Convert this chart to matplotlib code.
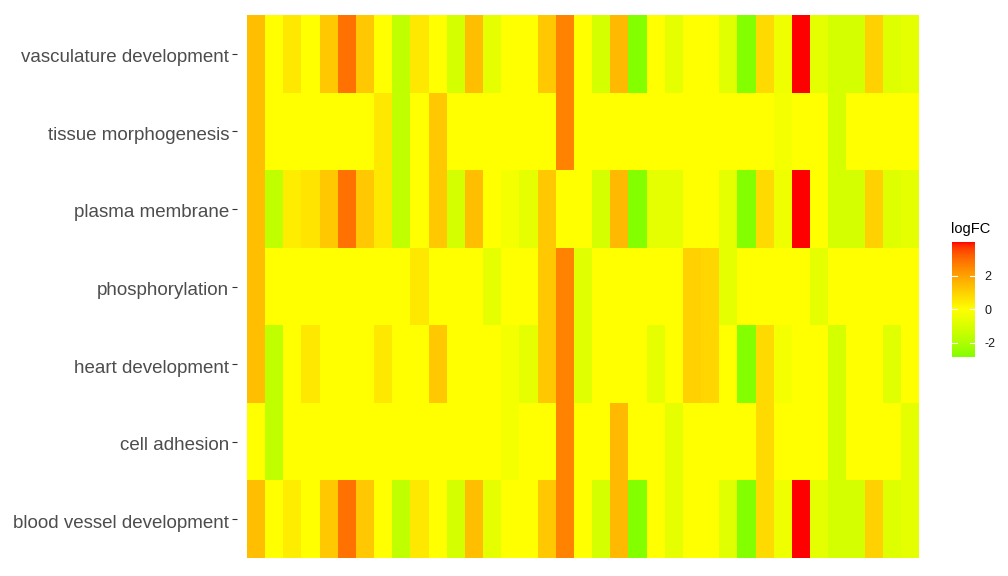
import numpy as np
import matplotlib
matplotlib.use("Agg")
import matplotlib.pyplot as plt
from matplotlib.colors import ListedColormap, Normalize
from matplotlib.transforms import ScaledTranslation

plt.rcParams['font.family'] = ['Liberation Sans', 'DejaVu Sans']
plt.rcParams['axes.unicode_minus'] = False

terms = ["vasculature development", "tissue morphogenesis", "plasma membrane",
         "phosphorylation", "heart development", "cell adhesion",
         "blood vessel development"]

vasculature = [1.4, 0, 0.5, 0, 1.2, 2.9, 1.2, 0, -1.6, 0.5, 0, -1.1, 1.4, -0.7, 0, 0, 1.2, 2.6, 0,
               -1.1, 1.5, -2.84, 0, -0.7, 0, 0, -0.8, -2.84, 0.8, -0.4, 4.0, -0.7, -1.1, -1.1, 1.0, -0.9, -0.7]
tissue = [1.4, 0, 0, 0, 0, 0, 0, 0.5, -1.6, 0, 1.2, 0, 0, 0, 0, 0, 0, 2.6, 0,
          0, 0, 0, 0, 0, 0, 0, 0, 0, 0, -0.3, 0, 0, -1.1, 0, 0, 0, 0]
membrane = [1.4, -1.6, 0.4, 0.6, 1.2, 2.9, 1.2, 0.5, -1.6, 0, 1.2, -1.1, 1.4, 0, -0.3, -0.7, 1.2, 0, 0,
            -1.1, 1.5, -2.84, -0.7, -0.7, 0, 0, -0.7, -2.84, 0.8, -0.4, 4.0, 0, -1.1, -1.1, 1.0, -0.9, -0.7]
phospho = [1.4, 0, 0, 0, 0, 0, 0, 0, 0, 0.5, 0, 0, 0, -0.7, 0, 0, 1.2, 2.6, -0.8,
           0, 0, 0, 0, 0, 1.0, 0.9, -0.7, 0, 0, 0, 0, -0.7, 0, 0, 0, 0, 0]
heart = [1.4, -1.6, 0, 0.5, 0, 0, 0, 0.5, 0, 0, 1.2, 0, 0, 0, -0.3, -0.7, 1.2, 2.6, -0.8,
         0, 0, 0, -0.7, 0, 1.0, 0.9, 0, -2.84, 0.8, -0.3, 0, 0, -1.1, 0, 0, -0.8, 0]
adhesion = [0, -1.6, 0, 0, 0, 0, 0, 0, 0, 0, 0, 0, 0, 0, -0.3, 0, 0, 2.6, 0,
            0, 1.5, 0, 0, -0.7, 0, 0, 0, 0, 0.8, 0, 0, 0, -1.1, 0, 0, 0, -0.7]
blood_vessel = [1.4, 0, 0.4, 0, 1.2, 2.9, 1.2, 0, -1.6, 0.5, 0, -1.1, 1.4, -0.7, 0, 0, 1.2, 2.6, 0,
                -1.1, 1.5, -2.84, 0, -0.7, 0, 0, -0.8, -2.84, 0.8, -0.4, 4.0, -0.7, -1.1, -1.1, 1.0, -0.9, -0.7]

Z = np.array([vasculature, tissue, membrane, phospho, heart, adhesion, blood_vessel])


# colour scale like ggplot's gradient2: green - yellow - red, interpolated in Lab
WHITE = np.array([0.95047, 1.0, 1.08883])
M = np.array([[0.4124, 0.3576, 0.1805], [0.2126, 0.7152, 0.0722], [0.0193, 0.1192, 0.9505]])


def to_lab(rgb):
    c = np.asarray(rgb, float)
    lin = np.where(c <= 0.04045, c / 12.92, ((c + 0.055) / 1.055) ** 2.4)
    xyz = M @ lin / WHITE
    f = np.where(xyz > 0.008856, np.cbrt(xyz), 7.787 * xyz + 16 / 116)
    return np.array([116 * f[1] - 16, 500 * (f[0] - f[1]), 200 * (f[1] - f[2])])


def from_lab(lab):
    fy = (lab[0] + 16) / 116
    f = np.array([fy + lab[1] / 500, fy, fy - lab[2] / 200])
    xyz = np.where(f ** 3 > 0.008856, f ** 3, (f - 16 / 116) / 7.787) * WHITE
    lin = np.linalg.solve(M, xyz)
    lin = np.clip(lin, 0, 1)
    c = np.where(lin <= 0.0031308, 12.92 * lin, 1.055 * lin ** (1 / 2.4) - 0.055)
    return np.clip(c, 0, 1)


low, mid, high = to_lab([0, 1, 0]), to_lab([1, 1, 0]), to_lab([1, 0, 0])
cols = []
for t in np.linspace(0, 1, 512):
    if t < 0.5:
        cols.append(from_lab(low + (mid - low) * t / 0.5))
    else:
        cols.append(from_lab(mid + (high - mid) * (t - 0.5) / 0.5))
cmap = ListedColormap(cols)
lim = np.abs(Z).max()
norm = Normalize(-lim, lim)

fig = plt.figure(figsize=(10.08, 5.76), dpi=100)
W, H = 1008, 576
ax = fig.add_axes([237 / W, 1 - 558 / H, 692 / W, 543 / H])
nr, nc = Z.shape
ax.pcolormesh(np.arange(nc + 1) - 0.5, np.arange(nr + 1) - 0.5, Z, cmap=cmap, norm=norm)
pad = 10 / 18.16
ax.set_xlim(-0.5 - pad, nc - 0.5 + pad)
ax.set_ylim(nr - 0.5, -0.5)
ax.set_xticks([])
ax.set_yticks(np.arange(nr))
ax.set_yticklabels(terms, fontsize=13.5, color="#4D4D4D")
ax.tick_params(axis="y", length=3.5, width=0.8, color="#333333", pad=2)
shift = ScaledTranslation(0, -2 / 100, fig.dpi_scale_trans)
for lbl in ax.get_yticklabels():
    lbl.set_transform(lbl.get_transform() + shift)
for s in ax.spines.values():
    s.set_visible(False)

# legend
cax = fig.add_axes([952 / W, 1 - 357 / H, 23 / W, 115 / H])
vmin, vmax = Z.min(), Z.max()
grad = np.linspace(vmin, vmax, 300).reshape(-1, 1)
cax.imshow(grad, cmap=cmap, norm=norm, aspect="auto", origin="lower",
           extent=[0, 1, vmin, vmax])
cax.set_xlim(0, 1)
cax.set_ylim(vmin, vmax)
for t in [-2, 0, 2]:
    cax.plot([0, 0.2], [t, t], color="white", lw=0.8)
    cax.plot([0.8, 1], [t, t], color="white", lw=0.8)
cax.set_xticks([])
cax.set_yticks([-2, 0, 2])
cax.yaxis.tick_right()
cax.tick_params(axis="y", length=0, pad=7, labelsize=9, labelcolor="#1A1A1A")
for s in cax.spines.values():
    s.set_visible(False)
fig.text(951 / W, 1 - 233 / H, "logFC", fontsize=10.5, color="black", ha="left", va="baseline")

fig.savefig("out.png", dpi=100)
